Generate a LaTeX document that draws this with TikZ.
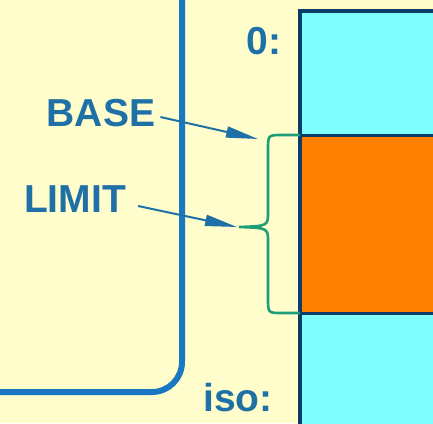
\documentclass[tikz,border=0pt]{standalone}
\usepackage{fontspec}
\setmainfont{Liberation Sans}
\usetikzlibrary{arrows.meta}
\definecolor{bgyellow}{HTML}{FFFDCC}
\definecolor{boxblue}{HTML}{1A78C2}
\definecolor{txtblue}{HTML}{2070A8}
\definecolor{memcyan}{HTML}{80FFFF}
\definecolor{memorange}{HTML}{FF8000}
\definecolor{memedge}{HTML}{0B3D6B}
\definecolor{bracegreen}{HTML}{1E9E78}
\begin{document}
\begin{tikzpicture}[x=1pt, y=-1pt,
		lbl/.style={text=txtblue, inner sep=0pt, font=\fontsize{39}{44}\selectfont\bfseries},
		ptr/.style={draw=txtblue, line width=2pt, -{Triangle[length=32pt, width=11pt]}},
		bracket/.style={draw=bracegreen, line width=2.6pt}]
				% 1. 背景与裁剪
				\clip (0,0) rectangle (433,423);
				\fill[bgyellow] (0,0) rectangle (433,423);
				
				% 2. 内存条 (右侧)
				\fill[memcyan] (300,11) rectangle (450,440);
				\fill[memorange] (300,135) rectangle (450,313);
				\draw[memedge, line width=3.5pt] (450,11) -- (300,11) -- (300,440);
				\draw[memedge, line width=3pt] (300,135) -- (450,135);
				\draw[memedge, line width=3pt] (300,313) -- (450,313);
				
				% 3. 进程框 (左侧圆角)
				\draw[boxblue, line width=6pt, rounded corners=30pt] (182,-10) |- (-10,392);
				
				% 4. 标号
				\node[lbl] (zero) at (264,41) {0:};
				\node[lbl] (iso) at (238,398) {iso:};
				\node[lbl] (base) at (101,113.5) {BASE};
				\node[lbl] (limit) at (75,199) {LIMIT};
				
				% 5. 箭头
				\coordinate (basetip) at (258,139);
				\coordinate (limittip) at (237,227);
				\draw[ptr] ([xshift=5pt, yshift=-3.5pt]base.east) -- (basetip);
				\draw[ptr] ([xshift=12pt, yshift=-7pt]limit.east) -- (limittip);
				
				% 6. 花括号 (BASE..LIMIT 区段)
				\draw[bracket] (300,135) -- (282,135) .. controls (268,135) .. (268,150)
					-- (268,212) .. controls (268,226) .. (239,227)
					.. controls (268,228) .. (268,242)
					-- (268,298) .. controls (268,313) .. (282,313) -- (300,313);
			\end{tikzpicture}
\end{document}
